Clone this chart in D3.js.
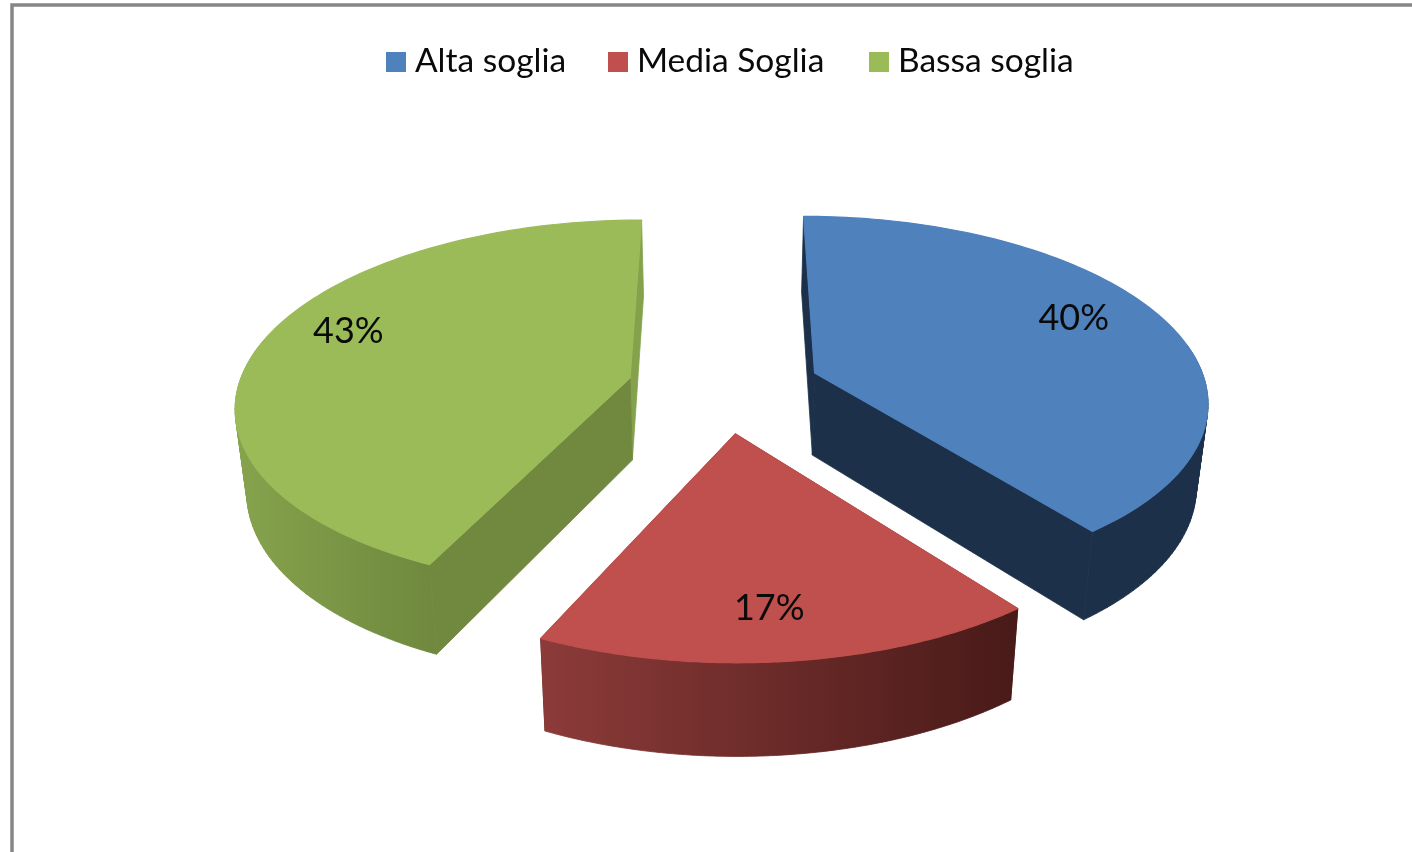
<!DOCTYPE html>
<html><head><meta charset="utf-8">
<script src="https://cdnjs.cloudflare.com/ajax/libs/d3/7.8.5/d3.min.js"></script>
<style>html,body{margin:0;padding:0;background:#fff;overflow:hidden}svg{display:block;filter:blur(.45px)}</style>
</head><body><svg id="c" width="1412" height="852"></svg>
<script>
const categories = ["Alta soglia","Media Soglia","Bassa soglia"];
const values = [39.5,17.4,43.1];
const labels = ["40%","17%","43%"];
const topColors = ["#4f81bd","#c0504d","#9bbb59"];
const rimStart = ["#1c3049","#8c3b39","#86a34d"];
const rimEnd = ["#1c3049","#481a18","#6f883e"];
const startWall = ["#1c3049","#4a1b19","#71893f"];
const endWall = ["#1c3049","#4a1b19","#84a24c"];
const legendSwatchX = [386,608,869];
const labelNudge = [[-21,-11],[-9,-2],[13,-17]];

const W=1412,H=852;
const svg=d3.select("#c");
const pie=d3.pie().sort(null);
const arcs=pie(values);
const A=392,B=182.5,PERSP=0.14,EXPLODE=0.247,CX=724,CY=387.5;
const DEPTH=82,SX=0.024,SY=0.04,VX=722,VY=372;
const RIM_FROM=80*Math.PI/180,RIM_TO=285*Math.PI/180;
function project(X,Y){const w=1-PERSP*Y;return [CX+A*X/w,CY+B*Y/w];}
function bottom(p){return [p[0]-SX*(p[0]-VX),p[1]+DEPTH+SY*(p[1]-VY)];}
const line=d3.line();
const defs=svg.append("defs");
svg.append("rect").attr("width",W).attr("height",H).attr("fill","#fff");
svg.append("path").attr("d",line([[12,H+4],[12,5],[W+4,5]])).attr("fill","none").attr("stroke","#868686").attr("stroke-width",3.5);

function quad(a,b){
  const q=[a,b,bottom(b),bottom(a)];
  if(d3.polygonArea(q)<0) q.reverse();
  return line(q)+"Z";
}
const labelData=[];
arcs.forEach((d,i)=>{
  const m=(d.startAngle+d.endAngle)/2;
  const ox=EXPLODE*Math.sin(m), oy=-EXPLODE*Math.cos(m);
  const pt=(a,r)=>project(ox+r*Math.sin(a),oy-r*Math.cos(a));
  const as=d3.range(0,121).map(k=>d.startAngle+(d.endAngle-d.startAngle)*k/120);
  const arcTop=as.map(a=>pt(a,1));
  const apex=pt(0,0),apexB=bottom(apex);
  const g=svg.append("g");
  const gid="rim"+i;
  const lg=defs.append("linearGradient").attr("id",gid).attr("x1",0).attr("x2",1).attr("y1",0).attr("y2",0);
  lg.append("stop").attr("offset",0).attr("stop-color",rimStart[i]);
  lg.append("stop").attr("offset",1).attr("stop-color",rimEnd[i]);
  const wall=(b,col)=>g.append("path").attr("d",line([apex,b,bottom(b),apexB])+"Z").attr("fill",col).attr("stroke",col).attr("stroke-width",0.8);
  wall(arcTop[120],endWall[i]);
  wall(arcTop[0],startWall[i]);
  const rimPts=arcTop.filter((p,k)=>as[k]>=RIM_FROM&&as[k]<=RIM_TO);
  const rimD=d3.pairs(rimPts).map(([a,b])=>quad(a,b)).join("");
  g.append("path").attr("d",rimD).attr("fill",`url(#${gid})`).attr("stroke",`url(#${gid})`).attr("stroke-width",0.8);
  g.append("path").attr("d",line([apex].concat(arcTop))+"Z").attr("fill",topColors[i]).attr("stroke",topColors[i]).attr("stroke-width",1.2).attr("stroke-linejoin","round");
  const lp=pt(m,0.8);
  labelData.push({x:lp[0]+labelNudge[i][0],y:lp[1]+labelNudge[i][1],t:labels[i]});
});
svg.selectAll("text.lab").data(labelData).join("text").attr("class","lab")
  .attr("x",d=>d.x).attr("y",d=>d.y).attr("dy","0.35em").attr("text-anchor","middle")
  .attr("font-family","Lato").attr("font-size",36).attr("fill","#0a0a0a").text(d=>d.t);
const lgd=svg.append("g");
categories.forEach((c,i)=>{
  lgd.append("rect").attr("x",legendSwatchX[i]).attr("y",52).attr("width",20).attr("height",20).attr("fill",topColors[i]);
  lgd.append("text").attr("x",legendSwatchX[i]+29).attr("y",72).attr("font-family","Lato").attr("font-size",33.5).attr("fill","#0a0a0a").text(c);
});
</script></body></html>
